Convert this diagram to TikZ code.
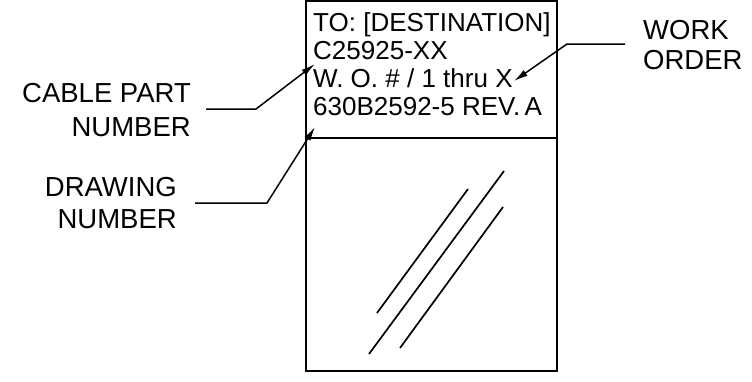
\documentclass[tikz,border=0pt]{standalone}
\usepackage{fontspec}
\setmainfont{Liberation Sans}
\usetikzlibrary{arrows.meta}
\begin{document}
\begin{tikzpicture}[x=1pt,y=-1pt,
  boxline/.style={line width=1.8pt},
  leader/.style={line width=1.5pt,-{Latex[length=14pt,width=7pt]}},
  glass/.style={line width=1.7pt},
  tagtext/.style={inner sep=0pt,font=\fontsize{26}{28}\selectfont},
  labtext/.style={inner sep=0pt,font=\fontsize{27.5}{32}\selectfont}]
\useasboundingbox (0,0) rectangle (752,381);
% tag box
\draw[boxline] (306,1) rectangle (557,371);
\draw[boxline] (306,138) -- (557,138);
% tag text
\node[tagtext,anchor=base west] (l1) at (313,31) {TO: [DESTINATION]};
\node[tagtext,anchor=base west] (l2) at (313,59) {C25925-XX};
\node[tagtext,anchor=base west] (l3) at (313,87) {W. O. \# / 1 thru X};
\node[tagtext,anchor=base west] (l4) at (313,115) {630B2592-5 REV.\,A};
% glass lines
\draw[glass] (377,313) -- (468,189);
\draw[glass] (369,354) -- (504,171);
\draw[glass] (400,348) -- (503,207);
% labels
\node[labtext,anchor=base east] (cab1) at (191,102) {CABLE PART};
\node[labtext,anchor=base east] (cab2) at (191,136) {NUMBER};
\node[labtext,anchor=base east] (drw1) at (177,196) {DRAWING};
\node[labtext,anchor=base east] (drw2) at (177,228) {NUMBER};
\node[labtext,anchor=base west] (wo1) at (643,39) {WORK};
\node[labtext,anchor=base west] (wo2) at (643,69) {ORDER};
% leader points
\coordinate (cabS) at (206,109);
\coordinate (cabK) at (256,109);
\coordinate (cabT) at (315,64);
\coordinate (drwS) at (195,203);
\coordinate (drwK) at (267,203);
\coordinate (drwT) at (315,127);
\coordinate (woS) at (625,44);
\coordinate (woK) at (567,44);
\coordinate (woT) at (514,81);
\draw[leader] (cabS) -- (cabK) -- (cabT);
\draw[leader] (drwS) -- (drwK) -- (drwT);
\draw[leader] (woS) -- (woK) -- (woT);
\end{tikzpicture}
\end{document}
